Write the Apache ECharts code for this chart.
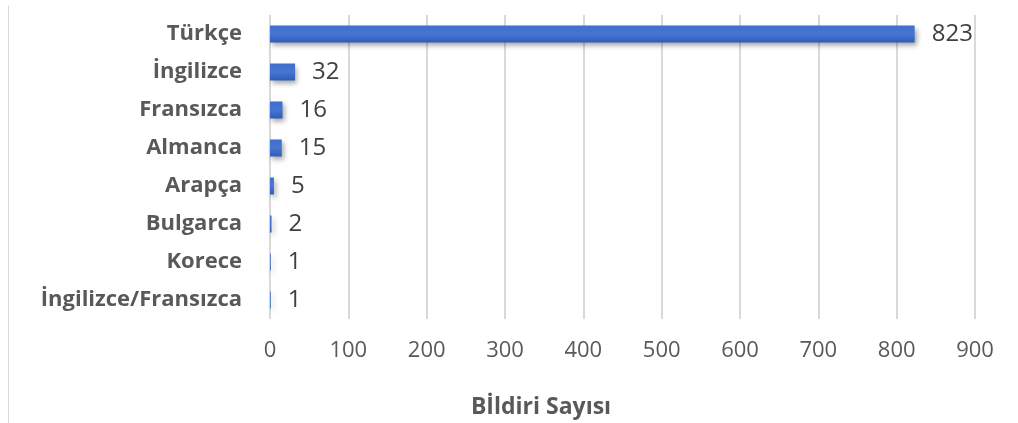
<!DOCTYPE html>
<html>
<head>
<meta charset="utf-8">
<script src="https://cdn.jsdelivr.net/npm/echarts@6/dist/echarts.min.js"></script>
<style>
  html, body { margin: 0; padding: 0; background: #fff; }
  #chart { width: 1018px; height: 423px; }
</style>
</head>
<body>
<div id="chart"></div>
<script>
// Languages of submitted papers and their counts
const languages = ['Türkçe', 'İngilizce', 'Fransızca', 'Almanca', 'Arapça', 'Bulgarca', 'Korece', 'İngilizce/Fransızca'];
const paperCounts = [823, 32, 16, 15, 5, 2, 1, 1];
const axisTitle = 'Bİldiri Sayısı';

const FONT = '"Open Sans", Lato, sans-serif';

const chart = echarts.init(document.getElementById('chart'));
chart.setOption({
  animation: false,
  backgroundColor: '#ffffff',
  grid: { left: 270, right: 43, top: 15, bottom: 104, containLabel: false },
  xAxis: {
    type: 'value',
    min: 0,
    max: 900,
    interval: 100,
    axisLine: { show: false },
    axisTick: { show: false },
    splitLine: { show: true, lineStyle: { color: '#d9d9d9', width: 2 } },
    axisLabel: { color: '#595959', fontFamily: FONT, fontSize: 22, margin: 21 }
  },
  yAxis: {
    type: 'category',
    data: languages,
    inverse: true,
    axisLine: { show: false },
    axisTick: { show: false },
    axisLabel: { color: '#595959', fontFamily: FONT, fontSize: 22, fontWeight: 'bold', margin: 28 }
  },
  series: [{
    type: 'bar',
    data: paperCounts,
    barWidth: 17,
    itemStyle: {
      color: new echarts.graphic.LinearGradient(0, 0, 0, 1, [
        { offset: 0, color: '#3f6fcc' },
        { offset: 0.5, color: '#4676d2' },
        { offset: 1, color: '#2f5cb8' }
      ]),
      shadowColor: 'rgba(0,0,0,0.35)',
      shadowBlur: 5,
      shadowOffsetX: 2,
      shadowOffsetY: 3
    },
    label: {
      show: true,
      position: 'right',
      distance: 17,
      color: '#404040',
      fontFamily: FONT,
      fontSize: 24
    }
  }],
  graphic: [
    {
      type: 'line',
      shape: { x1: 8.5, y1: 6, x2: 8.5, y2: 423 },
      style: { stroke: '#d9d9d9', lineWidth: 1 }
    },
    {
      type: 'text',
      x: 541,
      y: 407,
      style: {
        text: axisTitle,
        fill: '#595959',
        font: 'bold 23px ' + FONT,
        align: 'center',
        verticalAlign: 'middle'
      }
    }
  ]
});
</script>
</body>
</html>
